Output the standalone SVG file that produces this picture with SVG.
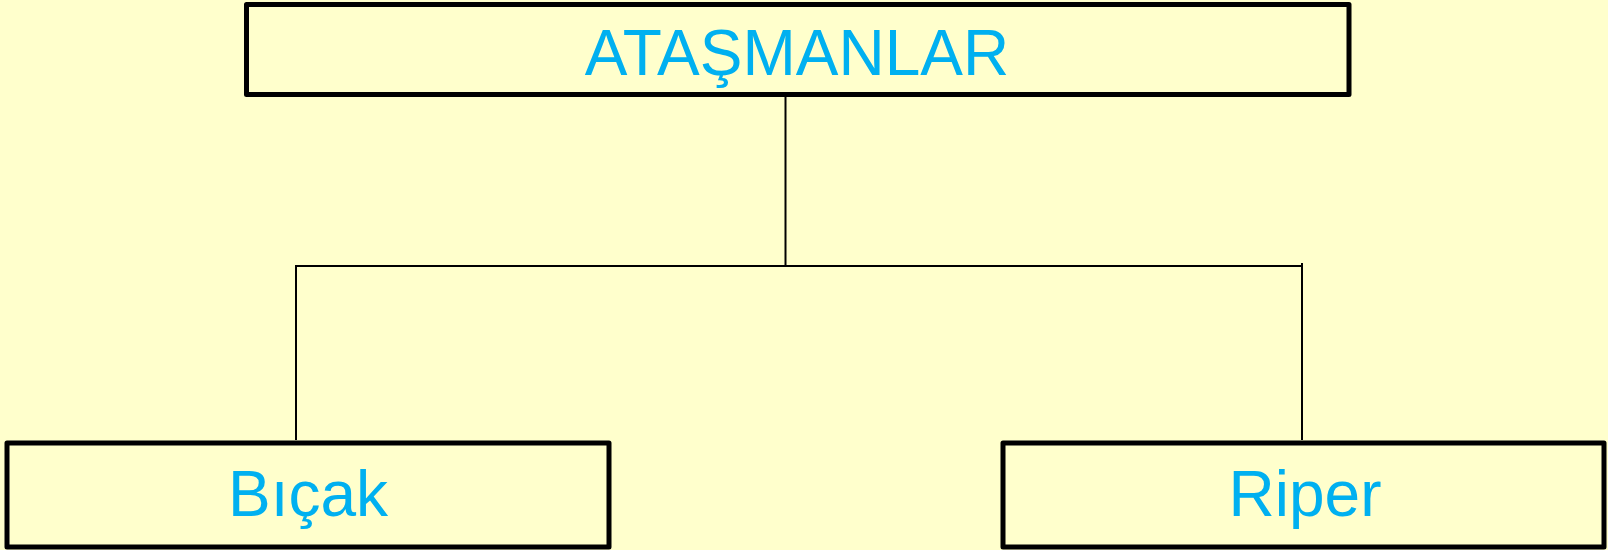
<svg xmlns="http://www.w3.org/2000/svg" width="1608" height="550" viewBox="0 0 1608 550">
<style>
.box{fill:#FFFFCC;stroke:#000;stroke-width:5;stroke-linejoin:round}
.lbl{font-family:"Liberation Sans",Arial,sans-serif;font-size:64px;fill:#00B0F0;text-anchor:middle}
.conn{stroke:#000;stroke-width:2;fill:none}
</style>
<rect width="1608" height="550" fill="#FFFFCC"/>
<g id="connectors">
<path class="conn" d="M785.5 94 V266"/>
<path class="conn" d="M296 440 V266 H1302"/>
<path class="conn" d="M1302 263 V440"/>
</g>
<g id="node-atasmanlar">
<rect class="box" x="246.5" y="4.5" width="1102.5" height="90"/>
<text class="lbl" x="797" y="75">ATAŞMANLAR</text>
</g>
<g id="node-bicak">
<rect class="box" x="7" y="443" width="602" height="104"/>
<text class="lbl" x="308" y="516">Bıçak</text>
</g>
<g id="node-riper">
<rect class="box" x="1003" y="443" width="601" height="104"/>
<text class="lbl" x="1305" y="516">Riper</text>
</g>
</svg>
